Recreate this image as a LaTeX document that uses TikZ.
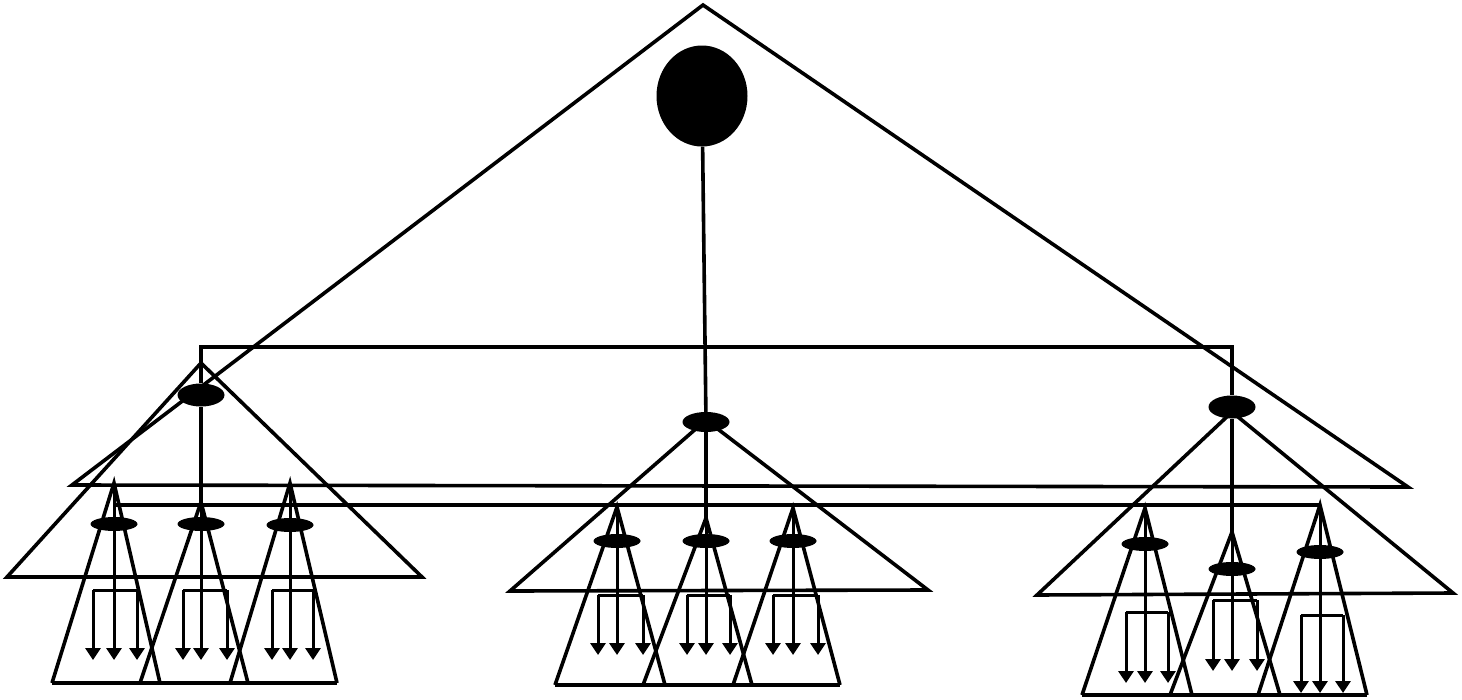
\documentclass[tikz,border=0pt]{standalone}
\usetikzlibrary{shapes.geometric,arrows.meta}
\begin{document}
\begin{tikzpicture}[x=1pt,y=-1pt,
  ln/.style={line width=3.6pt,black},
  thin/.style={line width=3pt,black},
  arr/.style={line width=3pt,black,-{Triangle[width=15pt,length=12pt]}},
  blob/.style={ellipse,fill=black,draw=none,inner sep=0pt},
  leafnode/.style={blob,minimum width=47pt,minimum height=14pt},
  midnode/.style={blob,minimum width=47pt,minimum height=23pt}]
\useasboundingbox (0,0) rectangle (1462,699);
% big triangle
\coordinate (Ta) at (703,5);
\coordinate (Tl) at (72,485);
\coordinate (Tr) at (1408,487);
\draw[ln] (Tl) -- (Ta) -- (Tr) -- cycle;
% root
\node[blob,minimum width=91pt,minimum height=101pt] (root) at (702,96) {};
% level 2 nodes
\node[midnode] (Lm) at (201,395) {};
\node[midnode,minimum height=20pt] (Mm) at (706,422) {};
\node[midnode] (Rm) at (1232,407) {};
% level 2 triangles
\coordinate (LTa) at (201,363); \coordinate (LTl) at (7,577); \coordinate (LTr) at (422,577);
\draw[ln] (LTl) -- (LTa) -- (LTr) -- cycle;
\coordinate (MTa) at (706,420); \coordinate (MTl) at (510,591); \coordinate (MTr) at (928,590);
\draw[ln] (MTl) -- (MTa) -- (MTr) -- cycle;
\coordinate (RTa) at (1232,412); \coordinate (RTl) at (1037,595); \coordinate (RTr) at (1453,593);
\draw[ln] (RTl) -- (RTa) -- (RTr) -- cycle;
% top bar
\coordinate (BarL) at (201,347); \coordinate (BarR) at (1232,347);
\draw[ln] (Lm) -- (BarL) -- (BarR) -- (Rm);
\draw[ln] (root) -- (Mm);
% second bar
\coordinate (Bar2L) at (114,505); \coordinate (Bar2R) at (1320,505);
\draw[ln] (Bar2L) -- (Bar2R);
% leaves
\foreach \nm/\cx/\ay/\ey/\lx/\rx/\by/\qa/\qb/\qy/\ty in {
  L1/114/483/524/52/160/683/93/137/590/660,
  L2/201/502/524/140/248/683/183/227/590/660,
  L3/290/483/525/230/337/683/272/313/590/660,
  M1/617/507/541/555/665/685/598/643/595/655,
  M2/706/518/541/643/752/685/687/730/595/655,
  M3/793/508/541/733/840/685/773/818/595/655,
  R1/1145/508/544/1082/1192/695/1126/1168/612/683,
  R2/1232/532/569/1170/1280/695/1213/1257/600/671,
  R3/1320/505/552/1258/1367/695/1301/1343/615/693}{
  \coordinate (\nm a) at (\cx,\ay);
  \coordinate (\nm l) at (\lx,\by);
  \coordinate (\nm r) at (\rx,\by);
  \draw[ln] (\nm l) -- (\nm a) -- (\nm r);
  \coordinate (\nm ql) at (\qa,\qy);
  \coordinate (\nm qr) at (\qb,\qy);
  \coordinate (\nm tl) at (\qa,\ty);
  \coordinate (\nm tc) at (\cx,\ty);
  \coordinate (\nm tr) at (\qb,\ty);
  \draw[thin] (\nm ql) -- (\nm qr);
  \draw[arr] (\nm ql) -- (\nm tl);
  \draw[arr] (\nm qr) -- (\nm tr);
  \draw[arr] (\nm a) -- (\nm tc);
  \node[leafnode] (\nm e) at (\cx,\ey) {};
}
% vertical links from level 2 to middle leaves
\draw[ln] (Lm) -- (L2a);
\draw[ln] (Mm) -- (M2a);
\draw[ln] (Rm) -- (R2a);
% group bases
\draw[ln] (L1l) -- (L3r);
\draw[ln] (M1l) -- (M3r);
\draw[ln] (R1l) -- (R3r);
\end{tikzpicture}
\end{document}
